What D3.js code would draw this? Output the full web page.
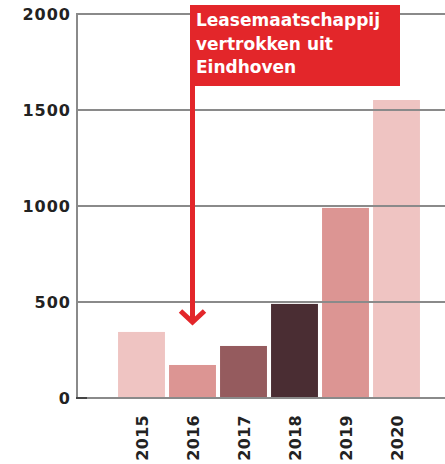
<!DOCTYPE html>
<html lang="nl">
<head>
    <meta charset="UTF-8">
    <title>Leasemaatschappij vertrokken uit Eindhoven</title>
    <script src="https://d3js.org/d3.v7.min.js"></script>
    <style>
        body { margin: 0; background: #fff; }
        svg { display: block; }
        .tick-label { font-family: "DejaVu Sans", sans-serif; font-weight: bold; font-size: 16px; fill: #222; letter-spacing: 1px; }
        .year-label { font-family: "DejaVu Sans", sans-serif; font-weight: bold; font-size: 16px; fill: #222; letter-spacing: 0.3px; }
        .note { font-family: "DejaVu Sans", sans-serif; font-weight: bold; font-size: 17px; fill: #fff; }
    </style>
</head>
<body>
<div id="chart"></div>
<script>
    // data
    const years = ["2015", "2016", "2017", "2018", "2019", "2020"];
    const values = [344, 172, 271, 490, 990, 1552];
    const barColors = ["#efc4c2", "#dc9593", "#955b5e", "#4a2d33", "#dc9593", "#efc4c2"];
    const yTicks = [0, 500, 1000, 1500, 2000];
    const noteLines = ["Leasemaatschappij", "vertrokken uit", "Eindhoven"];
    const noteYear = "2016";

    const W = 445, H = 464;
    const svg = d3.select("#chart").append("svg")
        .attr("width", W).attr("height", H);

    const x = d3.scaleBand()
        .domain(years)
        .range([116, 422])
        .paddingInner(0.08)
        .paddingOuter(0.04);

    const y = d3.scaleLinear()
        .domain([0, 2000])
        .range([398, 14]);

    const axisX = 77;

    // bars
    svg.append("g").selectAll("rect")
        .data(years)
        .join("rect")
        .attr("x", d => x(d))
        .attr("width", x.bandwidth())
        .attr("y", (d, i) => y(values[i]))
        .attr("height", (d, i) => y(0) - y(values[i]))
        .attr("fill", (d, i) => barColors[i]);

    // gridlines over the bars
    svg.append("g").selectAll("line")
        .data(yTicks)
        .join("line")
        .attr("x1", axisX).attr("x2", W)
        .attr("y1", d => y(d)).attr("y2", d => y(d))
        .attr("stroke", "#8a8a8a")
        .attr("stroke-width", 2);

    // y axis line
    svg.append("line")
        .attr("x1", axisX).attr("x2", axisX)
        .attr("y1", y(2000) - 1).attr("y2", y(0) + 1)
        .attr("stroke", "#8a8a8a")
        .attr("stroke-width", 2);

    // short dark piece at the baseline
    svg.append("line")
        .attr("x1", axisX - 1).attr("x2", axisX + 10)
        .attr("y1", y(0)).attr("y2", y(0))
        .attr("stroke", "#444")
        .attr("stroke-width", 2);

    // y tick labels
    svg.append("g").selectAll("text")
        .data(yTicks)
        .join("text")
        .attr("class", "tick-label")
        .attr("x", 71)
        .attr("y", d => y(d) + 6)
        .attr("text-anchor", "end")
        .text(d => d);

    // year labels, rotated
    svg.append("g").selectAll("text")
        .data(years)
        .join("text")
        .attr("class", "year-label")
        .attr("text-anchor", "end")
        .attr("transform", d => `translate(${x(d) + x.bandwidth() / 2 + 6}, 415) rotate(-90)`)
        .text(d => d);

    // annotation
    const ax = x(noteYear) + x.bandwidth() / 2;
    const boxLeft = ax - 2.5;
    const note = svg.append("g");
    note.append("line")
        .attr("x1", ax).attr("x2", ax)
        .attr("y1", 80).attr("y2", 321)
        .attr("stroke", "#e3262a")
        .attr("stroke-width", 5);
    note.append("polyline")
        .attr("points", `${ax - 12},311 ${ax},322 ${ax + 12},311`)
        .attr("fill", "none")
        .attr("stroke", "#e3262a")
        .attr("stroke-width", 5);
    note.append("rect")
        .attr("x", boxLeft).attr("y", 5)
        .attr("width", 210).attr("height", 81)
        .attr("fill", "#e3262a");
    note.selectAll("text")
        .data(noteLines)
        .join("text")
        .attr("class", "note")
        .attr("x", boxLeft + 6)
        .attr("y", (d, i) => 26 + i * 23.5)
        .text(d => d);
</script>
</body>
</html>
